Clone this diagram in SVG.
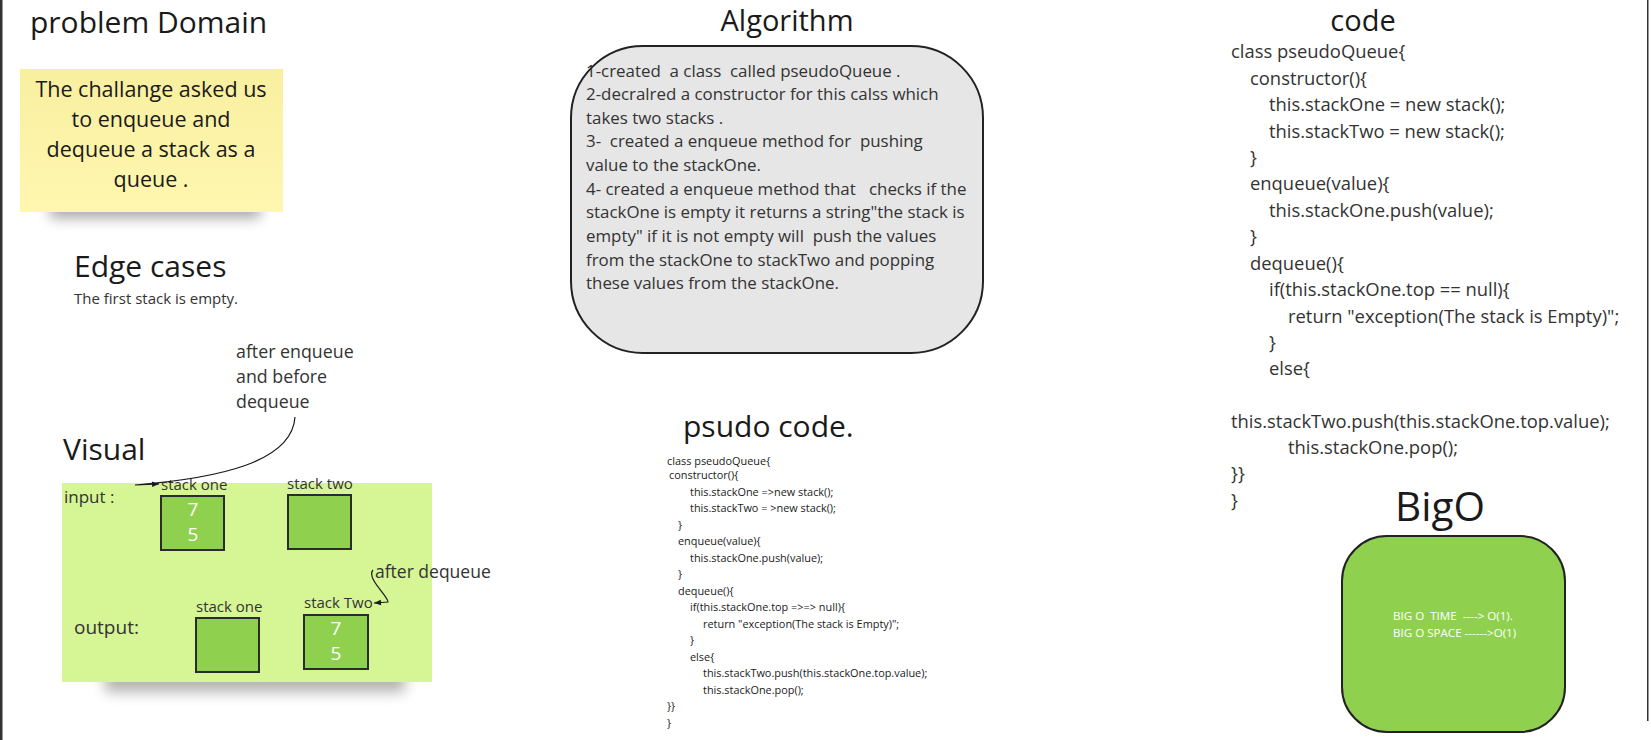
<svg xmlns="http://www.w3.org/2000/svg" width="1651" height="740" viewBox="0 0 1651 740">
<defs>
<style>
text{font-family:"Open Sans","Noto Sans","DejaVu Sans",sans-serif;white-space:pre;}
.title{font-size:30px;fill:#1a1a1a;}
.sticky{font-size:21.5px;fill:#1a1a1a;text-anchor:middle;}
.small{font-size:15px;fill:#333;}
.lbl{font-size:16px;fill:#333;}
.alg{font-size:16.9px;fill:#333;}
.pc{font-size:10.9px;fill:#1a1a1a;}
.code{font-size:18.4px;fill:#333;}
.num{font-size:19px;fill:#fff;text-anchor:middle;}
.box{fill:#8fd14f;stroke:#2b2b2b;stroke-width:2;}
.conn{fill:none;stroke:#1a1a1a;stroke-width:1.2;}
.big{font-size:11.6px;fill:#fff;}
</style>
<filter id="blur" x="-30%" y="-150%" width="160%" height="400%"><feGaussianBlur stdDeviation="7"/></filter>
<linearGradient id="yel" x1="0" y1="0" x2="0" y2="1"><stop offset="0" stop-color="#f8ef9f"/><stop offset="1" stop-color="#fff7b0"/></linearGradient>
<marker id="ah" viewBox="0 0 10 10" refX="10" refY="5" markerWidth="11" markerHeight="7" markerUnits="userSpaceOnUse" orient="auto"><path d="M0,1 L10,5 L0,9 z" fill="#1a1a1a"/></marker>
</defs>
<rect width="1651" height="740" fill="#fff"/>
<rect x="0" y="0" width="2.5" height="740" fill="#333"/>
<rect x="1647" y="0" width="1.5" height="721" fill="#333"/>

<g id="problem-domain">
<text class="title" x="30" y="33">problem Domain</text>
<rect x="50" y="200" width="210" height="18" fill="#000" opacity="0.35" filter="url(#blur)"/>
<rect x="20" y="69" width="263" height="143" fill="url(#yel)"/>
<text class="sticky" x="151" y="97">The challange asked us</text>
<text class="sticky" x="151" y="127">to enqueue and</text>
<text class="sticky" x="151" y="157">dequeue a stack as a</text>
<text class="sticky" x="151" y="187">queue .</text>
</g>

<g id="edge-cases">
<text class="title" x="74" y="277">Edge cases</text>
<text class="small" x="74" y="304">The first stack is empty.</text>
</g>

<g id="visual">
<text class="title" x="63" y="460">Visual</text>
<text class="lbl" x="236" y="358" style="font-size:17.8px">after enqueue</text>
<text class="lbl" x="236" y="383" style="font-size:17.8px">and before</text>
<text class="lbl" x="236" y="408" style="font-size:17.8px">dequeue</text>
<rect x="105" y="666" width="300" height="26" fill="#000" opacity="0.3" filter="url(#blur)"/>
<rect x="62" y="483" width="370" height="199" fill="#d6f594"/>
<text class="lbl" x="64" y="503" style="font-size:17px">input :</text>
<text class="lbl" x="74" y="634" style="font-size:19px">output:</text>
<text class="lbl" x="161" y="490" style="font-size:15px">stack one</text>
<text class="lbl" x="287" y="489" style="font-size:15px">stack two</text>
<text class="lbl" x="196" y="612" style="font-size:15px">stack one</text>
<text class="lbl" x="304" y="608" style="font-size:15px">stack Two</text>
<text class="lbl" x="375" y="578" style="font-size:17.5px">after dequeue</text>
<g id="in-stack-one"><rect class="box" x="161" y="496" width="63" height="54"/><text class="num" x="193" y="516">7</text><text class="num" x="193" y="541">5</text></g>
<g id="in-stack-two"><rect class="box" x="288" y="495" width="63" height="54"/></g>
<g id="out-stack-one"><rect class="box" x="196" y="618" width="63" height="54"/></g>
<g id="out-stack-two"><rect class="box" x="304" y="615" width="64" height="54"/><text class="num" x="336" y="635">7</text><text class="num" x="336" y="660">5</text></g>
</g>

<g id="connectors">
<path class="conn" d="M295,417 C292,462 220,478 135,485 L159,484" marker-end="url(#ah)"/>
<path class="conn" d="M373,570 C366,578 388,596 388,602 L374,603" marker-end="url(#ah)"/>
</g>

<g id="algorithm">
<text class="title" x="787" y="31" text-anchor="middle" style="font-size:29px">Algorithm</text>
<rect x="571" y="46" width="412" height="307" rx="72" ry="72" fill="#e6e6e6" stroke="#222" stroke-width="2"/>
<text class="alg" x="586" y="77">1-created  a class  called pseudoQueue .</text>
<text class="alg" x="586" y="100">2-decralred a constructor for this calss which</text>
<text class="alg" x="586" y="124">takes two stacks .</text>
<text class="alg" x="586" y="147">3-  created a enqueue method for  pushing</text>
<text class="alg" x="586" y="171">value to the stackOne.</text>
<text class="alg" x="586" y="195">4- created a enqueue method that   checks if the</text>
<text class="alg" x="586" y="218">stackOne is empty it returns a string"the stack is</text>
<text class="alg" x="586" y="242">empty" if it is not empty will  push the values</text>
<text class="alg" x="586" y="266">from the stackOne to stackTwo and popping</text>
<text class="alg" x="586" y="289">these values from the stackOne.</text>
</g>

<g id="pseudo-code">
<text class="title" x="683" y="437">psudo code.</text>
<text class="pc" x="667" y="465">class pseudoQueue{</text>
<text class="pc" x="669" y="479">constructor(){</text>
<text class="pc" x="690" y="496">this.stackOne =&gt;new stack();</text>
<text class="pc" x="690" y="512">this.stackTwo = &gt;new stack();</text>
<text class="pc" x="678" y="529">}</text>
<text class="pc" x="678" y="545">enqueue(value){</text>
<text class="pc" x="690" y="562">this.stackOne.push(value);</text>
<text class="pc" x="678" y="578">}</text>
<text class="pc" x="678" y="595">dequeue(){</text>
<text class="pc" x="690" y="611">if(this.stackOne.top =&gt;=&gt; null){</text>
<text class="pc" x="703" y="628">return "exception(The stack is Empty)";</text>
<text class="pc" x="690" y="644">}</text>
<text class="pc" x="690" y="661">else{</text>
<text class="pc" x="703" y="677">this.stackTwo.push(this.stackOne.top.value);</text>
<text class="pc" x="703" y="694">this.stackOne.pop();</text>
<text class="pc" x="667" y="710">}}</text>
<text class="pc" x="667" y="727">}</text>
</g>

<g id="code">
<text class="title" x="1363" y="31" text-anchor="middle" style="font-size:29px">code</text>
<text class="code" x="1231" y="58">class pseudoQueue{</text>
<text class="code" x="1250" y="85">constructor(){</text>
<text class="code" x="1269" y="111">this.stackOne = new stack();</text>
<text class="code" x="1269" y="138">this.stackTwo = new stack();</text>
<text class="code" x="1250" y="164">}</text>
<text class="code" x="1250" y="190">enqueue(value){</text>
<text class="code" x="1269" y="217">this.stackOne.push(value);</text>
<text class="code" x="1250" y="243">}</text>
<text class="code" x="1250" y="270">dequeue(){</text>
<text class="code" x="1269" y="296">if(this.stackOne.top == null){</text>
<text class="code" x="1288" y="323">return "exception(The stack is Empty)";</text>
<text class="code" x="1269" y="349">}</text>
<text class="code" x="1269" y="375">else{</text>
<text class="code" x="1231" y="428">this.stackTwo.push(this.stackOne.top.value);</text>
<text class="code" x="1288" y="454">this.stackOne.pop();</text>
<text class="code" x="1231" y="480">}}</text>
<text class="code" x="1231" y="507">}</text>
</g>

<g id="bigo">
<text class="title" x="1440" y="521" text-anchor="middle" style="font-size:40.5px">BigO</text>
<rect x="1342" y="536" width="223" height="196" rx="45" ry="45" fill="#8fd14f" stroke="#222" stroke-width="2"/>
<text class="big" x="1393" y="620">BIG O  TIME  ----&gt; O(1).</text>
<text class="big" x="1393" y="637">BIG O SPACE ------&gt;O(1)</text>
</g>
<rect x="1613" y="721" width="38" height="19" fill="#fff"/>
</svg>
